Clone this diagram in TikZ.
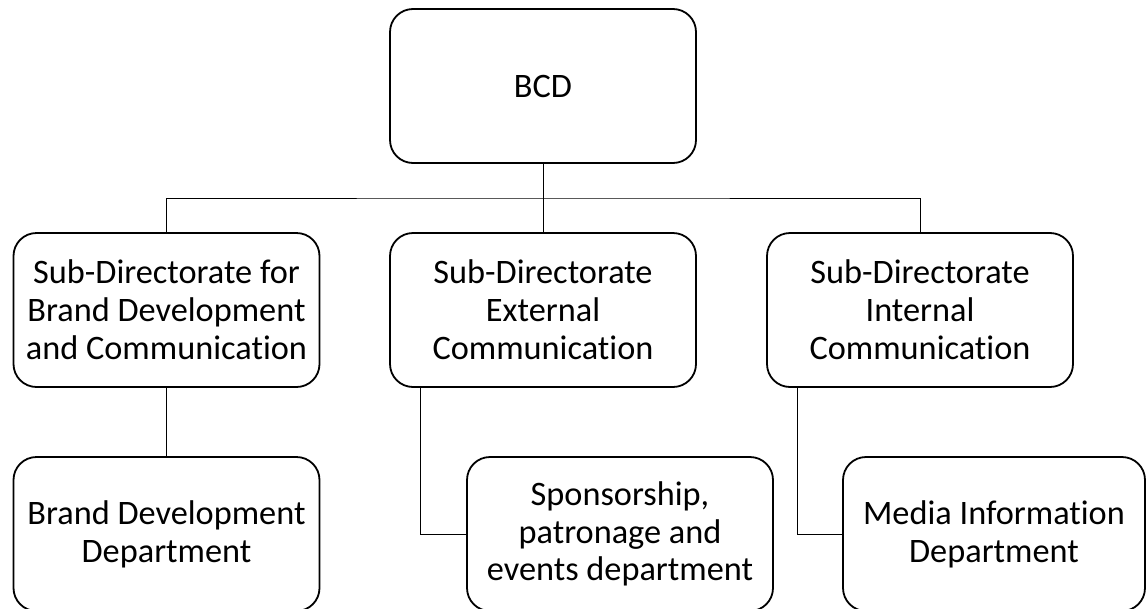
\documentclass[tikz,border=0pt]{standalone}
\usepackage{fontspec}
\setmainfont{Carlito}[Ligatures=NoCommon]
\begin{document}
\begin{tikzpicture}[x=1pt,y=-1pt,
  unitbox/.style={draw, line width=1.8pt, rounded corners=23pt,
    minimum width=306pt, minimum height=154pt, align=center,
    inner sep=0pt, font=\fontsize{34.3}{37.8}\selectfont},
  link/.style={draw, line width=1pt}]
  \useasboundingbox (0,0) rectangle (1147,608);

  % top level
  \node[unitbox] (bcd) at (543,86) {BCD};

  % sub-directorates
  \node[unitbox] (sdb) at (166.5,310) {Sub-Directorate for\\Brand Development\\and Communication};
  \node[unitbox] (sde) at (543,310) {Sub-Directorate\\External\\Communication};
  \node[unitbox] (sdi) at (920,310) {Sub-Directorate\\Internal\\Communication};

  % departments
  \node[unitbox] (bdd) at (166.5,534) {Brand Development\\Department};
  \node[unitbox] (spd) at (620,534) {Sponsorship,\\patronage and\\events department};
  \node[unitbox, minimum width=302pt] (mid) at (994,534) {Media Information\\Department};

  % connectors
  \coordinate (bus) at (543,198);
  \draw[link] (bcd.south) -- (sde.north);
  \draw[link] (sdb.north) |- (bus) -| (sdi.north);
  \draw[link] (sdb.south) -- (bdd.north);
  \draw[link] ([xshift=31pt]sde.south west) |- (spd.west);
  \draw[link] ([xshift=31pt]sdi.south west) |- (mid.west);
\end{tikzpicture}
\end{document}
